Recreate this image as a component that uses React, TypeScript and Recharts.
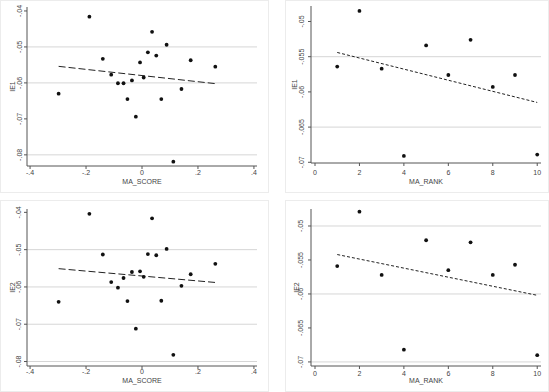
import React from 'react';
import {
  ScatterChart,
  Scatter,
  XAxis,
  YAxis,
  ReferenceLine
} from 'recharts';

// MA_SCORE values (same firms in both left panels)
const maScore = [-0.298, -0.188, -0.14, -0.11, -0.086, -0.066, -0.052, -0.036, -0.022, -0.007, 0.006, 0.021, 0.036, 0.051, 0.069, 0.088, 0.112, 0.141, 0.174, 0.262];
const ie1ByScore = [-0.063, -0.0416, -0.0533, -0.0577, -0.0601, -0.0601, -0.0645, -0.0593, -0.0694, -0.0543, -0.0585, -0.0515, -0.0458, -0.0524, -0.0645, -0.0494, -0.0819, -0.0617, -0.0537, -0.0555];
const ie2ByScore = [-0.064, -0.0404, -0.0513, -0.0587, -0.0602, -0.0576, -0.0638, -0.056, -0.0712, -0.0558, -0.0573, -0.0512, -0.0416, -0.0515, -0.0637, -0.0498, -0.0782, -0.0597, -0.0566, -0.0538];

// MA_RANK groups
const maRank = [1, 2, 3, 4, 5, 6, 7, 8, 9, 10];
const ie1ByRank = [-0.0564, -0.0485, -0.0567, -0.0691, -0.0534, -0.0576, -0.0526, -0.0593, -0.0576, -0.0689];
const ie2ByRank = [-0.0559, -0.0479, -0.0572, -0.0682, -0.0521, -0.0565, -0.0524, -0.0572, -0.0557, -0.069];

// fitted lines (end points)
const fitScoreX = [-0.298, 0.262];
const fitIe1Score = [-0.0554, -0.0602];
const fitIe2Score = [-0.0551, -0.0588];
const fitRankX = [1, 10];
const fitIe1Rank = [-0.0544, -0.0615];
const fitIe2Rank = [-0.0542, -0.0602];

// ticks
const scoreTicks = [-0.4, -0.2, 0, 0.2, 0.4];
const rankTicks = [0, 2, 4, 6, 8, 10];
const ieScoreTicks = [-0.08, -0.07, -0.06, -0.05, -0.04];
const ieRankTicks = [-0.07, -0.065, -0.06, -0.055, -0.05];

const FONT = '"Liberation Sans", Arial, sans-serif';
const TXT = '#444';

const fmt = (v: number) => {
  const s = String(Number(v.toFixed(3)));
  return s.replace('0.', '.');
};

const zip = (xs: number[], ys: number[]) => xs.map((x, i) => ({ x, y: ys[i] }));

const Dot = (props: any) => (
  <circle cx={props.cx} cy={props.cy} r={1.9} fill="#111" />
);

const NoDot = () => <g />;

function Panel(props: any) {
  const {
    left, top, width, margin, yWidth, xHeight, xDomain, yDomain, xTicks, yTicks,
    points, fit, grid, xTitle, yTitle, dash, xTickDy, xTitleDy, yTickDx, yTitleDx
  } = props;

  const XTick = (p: any) => (
    <text x={p.x} y={p.y + xTickDy} textAnchor="middle" dominantBaseline="central"
      fontSize={7} fill={TXT} fontFamily={FONT}>
      {fmt(p.payload.value)}
    </text>
  );

  const YTick = (p: any) => {
    const cx = p.x + 3 - yTickDx;
    return (
      <text x={cx} y={p.y} transform={`rotate(-90 ${cx} ${p.y})`} textAnchor="middle"
        dominantBaseline="central" fontSize={7} fill={TXT} fontFamily={FONT}>
        {fmt(p.payload.value)}
      </text>
    );
  };

  const XTitle = (p: any) => {
    const vb = p.viewBox;
    return (
      <text x={vb.x + vb.width / 2} y={vb.y + xTitleDy} textAnchor="middle"
        dominantBaseline="central" fontSize={7} fill={TXT} fontFamily={FONT}>
        {xTitle}
      </text>
    );
  };

  const YTitle = (p: any) => {
    const vb = p.viewBox;
    const cx = vb.x + vb.width - yTitleDx;
    const cy = vb.y + vb.height / 2;
    return (
      <text x={cx} y={cy} transform={`rotate(-90 ${cx} ${cy})`} textAnchor="middle"
        dominantBaseline="central" fontSize={7} fill={TXT} fontFamily={FONT}>
        {yTitle}
      </text>
    );
  };

  return (
    <div style={{ position: 'absolute', left, top, width, height: 196 }}>
      <ScatterChart width={width} height={196} margin={margin}>
        <XAxis type="number" dataKey="x" domain={xDomain} ticks={xTicks} allowDataOverflow
          height={xHeight} tickSize={3} tickMargin={0} stroke="#555"
          tick={<XTick />} label={{ content: <XTitle /> }} />
        <YAxis type="number" dataKey="y" domain={yDomain} ticks={yTicks} allowDataOverflow
          width={yWidth} tickSize={3} tickMargin={0} stroke="#555"
          tick={<YTick />} label={{ content: <YTitle /> }} />
        {grid.map((g: number) => (
          <ReferenceLine key={g} y={g} stroke="#d6d6d6" strokeWidth={1} />
        ))}
        <Scatter data={fit} line={{ stroke: '#222', strokeWidth: 1, strokeDasharray: dash }}
          shape={<NoDot />} isAnimationActive={false} />
        <Scatter data={points} shape={<Dot />} isAnimationActive={false} />
      </ScatterChart>
    </div>
  );
}

const border = (left: number, top: number, w: number, h: number) => (
  <div style={{ position: 'absolute', left, top, width: w, height: h, border: '1px solid #ececec', boxSizing: 'border-box' }} />
);

export default function App() {
  return (
    <div style={{ position: 'absolute', left: 0, top: 0, width: 549, height: 392, background: '#fff', overflow: 'hidden' }}>
      {border(0, 0, 269, 193)}
      {border(285, 0, 264, 193)}
      {border(0, 200, 269, 192)}
      {border(285, 200, 264, 192)}

      <Panel left={0} top={0} width={275}
        margin={{ top: 7, right: 18, bottom: 0, left: 0 }} yWidth={27} xHeight={30}
        xDomain={[-0.411, 0.411]} yDomain={[-0.0831, -0.0389]}
        xTicks={scoreTicks} yTicks={ieScoreTicks}
        points={zip(maScore, ie1ByScore)} fit={zip(fitScoreX, fitIe1Score)}
        grid={[-0.05, -0.06, -0.08]} xTitle="MA_SCORE" yTitle="IE1" dash="7 3"
        xTickDy={3.7} xTitleDy={15.7} yTickDx={7} yTitleDx={15} />

      <Panel left={275} top={0} width={274}
        margin={{ top: 6, right: 8, bottom: 0, left: 0 }} yWidth={36} xHeight={33}
        xDomain={[-0.18, 10.17]} yDomain={[-0.0701, -0.0478]}
        xTicks={rankTicks} yTicks={ieRankTicks}
        points={zip(maRank, ie1ByRank)} fit={zip(fitRankX, fitIe1Rank)}
        grid={[-0.055, -0.065]} xTitle="MA_RANK" yTitle="IE1" dash="3 2"
        xTickDy={6.3} xTitleDy={18.4} yTickDx={9} yTitleDx={17} />

      <Panel left={0} top={196} width={275}
        margin={{ top: 13, right: 18, bottom: 0, left: 0 }} yWidth={27} xHeight={26}
        xDomain={[-0.411, 0.411]} yDomain={[-0.0812, -0.0391]}
        xTicks={scoreTicks} yTicks={ieScoreTicks}
        points={zip(maScore, ie2ByScore)} fit={zip(fitScoreX, fitIe2Score)}
        grid={[-0.05, -0.06, -0.07, -0.08]} xTitle="MA_SCORE" yTitle="IE2" dash="7 3"
        xTickDy={2} xTitleDy={14} yTickDx={8} yTitleDx={15} />

      <Panel left={275} top={196} width={274}
        margin={{ top: 13, right: 8, bottom: 0, left: 0 }} yWidth={36} xHeight={26}
        xDomain={[-0.18, 10.17]} yDomain={[-0.0706, -0.0475]}
        xTicks={rankTicks} yTicks={ieRankTicks}
        points={zip(maRank, ie2ByRank)} fit={zip(fitRankX, fitIe2Rank)}
        grid={[-0.05, -0.06, -0.07]} xTitle="MA_RANK" yTitle="IE2" dash="3 2"
        xTickDy={4} xTitleDy={14} yTickDx={10.7} yTitleDx={15} />
    </div>
  );
}
